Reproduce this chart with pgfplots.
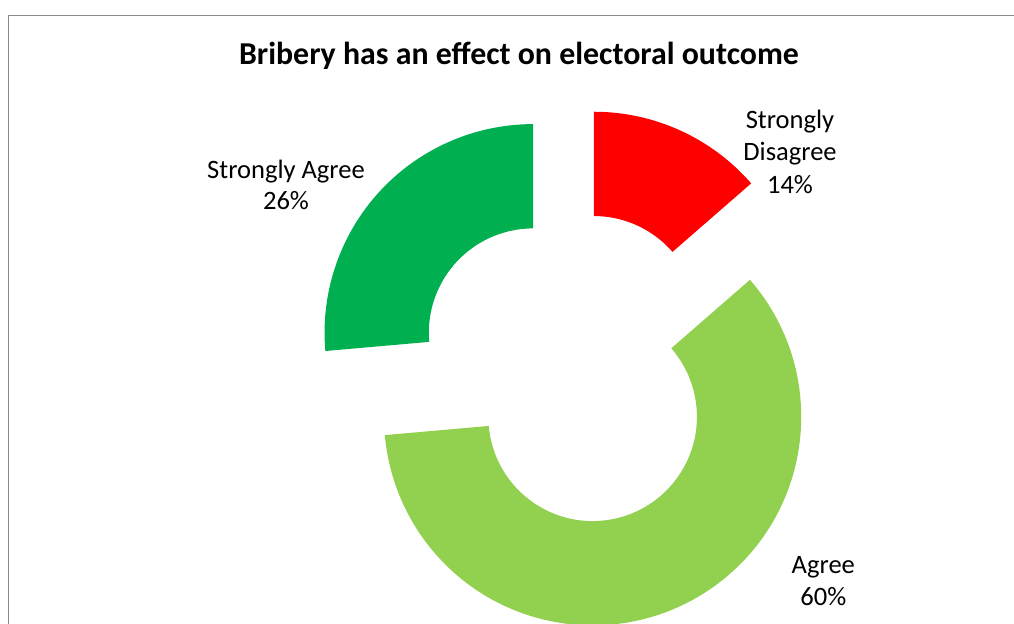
\documentclass[border=0pt]{standalone}
\usepackage{pgfplots}
\pgfplotsset{compat=1.18}
\usepackage{pgfplotstable}
\usepackage{fontspec}
\setmainfont{Carlito}

\definecolor{sdred}{HTML}{FF0000}
\definecolor{agreegreen}{HTML}{92D050}
\definecolor{sagreen}{HTML}{00B050}
\definecolor{framegray}{HTML}{898989}

\pgfplotstableread{
label value
StronglyDisagree 13.6
Agree 60.0
StronglyAgree 26.4
}\donutdata

\pgfplotstablegetelem{0}{value}\of\donutdata \let\vA\pgfplotsretval
\pgfplotstablegetelem{1}{value}\of\donutdata \let\vB\pgfplotsretval
\pgfplotstablegetelem{2}{value}\of\donutdata \let\vC\pgfplotsretval
\pgfmathsetmacro{\sA}{0}
\pgfmathsetmacro{\eA}{\sA+3.6*\vA}
\pgfmathsetmacro{\sB}{\eA}
\pgfmathsetmacro{\eB}{\sB+3.6*\vB}
\pgfmathsetmacro{\sC}{\eB}
\pgfmathsetmacro{\eC}{\sC+3.6*\vC}
\pgfmathsetmacro{\bA}{(\sA+\eA)/2}
\pgfmathsetmacro{\bB}{(\sB+\eB)/2}
\pgfmathsetmacro{\bC}{(\sC+\eC)/2}
\def\cx{572}
\def\cy{255.7}
\def\dd{52.7}
\def\Rpt{156.45pt}
\def\rpt{78.225pt}

\begin{document}%
\begin{tikzpicture}
\begin{axis}[width=760.5pt, height=468pt, scale only axis,
  xmin=0, xmax=1014, ymin=0, ymax=624, hide axis, clip=false]
% frame
\draw[framegray, line width=0.9pt] (axis cs:8.5,-5) -- (axis cs:8.5,608.5) -- (axis cs:1030,608.5);
% wedges
\coordinate (cA) at (axis cs:{\cx+\dd*sin(\bA)},{\cy+\dd*cos(\bA)});
\coordinate (cB) at (axis cs:{\cx+\dd*sin(\bB)},{\cy+\dd*cos(\bB)});
\coordinate (cC) at (axis cs:{\cx+\dd*sin(\bC)},{\cy+\dd*cos(\bC)});
\fill[sdred] ([shift={({90-\sA}:\Rpt)}]cA) arc[start angle={90-\sA}, end angle={90-\eA}, radius=\Rpt]
  -- ([shift={({90-\eA}:\rpt)}]cA) arc[start angle={90-\eA}, end angle={90-\sA}, radius=\rpt] -- cycle;
\fill[agreegreen] ([shift={({90-\sB}:\Rpt)}]cB) arc[start angle={90-\sB}, end angle={90-\eB}, radius=\Rpt]
  -- ([shift={({90-\eB}:\rpt)}]cB) arc[start angle={90-\eB}, end angle={90-\sB}, radius=\rpt] -- cycle;
\fill[sagreen] ([shift={({90-\sC}:\Rpt)}]cC) arc[start angle={90-\sC}, end angle={90-\eC}, radius=\Rpt]
  -- ([shift={({90-\eC}:\rpt)}]cC) arc[start angle={90-\eC}, end angle={90-\sC}, radius=\rpt] -- cycle;
% title
\node[anchor=base, inner sep=0pt, font=\fontsize{23.9}{28}\selectfont\bfseries] at (axis cs:519,559.5) {Bribery has an effect on electoral outcome};
% labels
\node[anchor=base, inner sep=0pt, font=\fontsize{19.9}{24}\selectfont] at (axis cs:286,445.8) {Strongly Agree};
\node[anchor=base, inner sep=0pt, font=\fontsize{19.9}{24}\selectfont] at (axis cs:286,414.2) {26\%};
\node[anchor=base, inner sep=0pt, font=\fontsize{19.9}{24}\selectfont] at (axis cs:790,495.8) {Strongly};
\node[anchor=base, inner sep=0pt, font=\fontsize{19.9}{24}\selectfont] at (axis cs:790,463.2) {Disagree};
\node[anchor=base, inner sep=0pt, font=\fontsize{19.9}{24}\selectfont] at (axis cs:790,430.8) {14\%};
\node[anchor=base, inner sep=0pt, font=\fontsize{19.9}{24}\selectfont] at (axis cs:823.3,50.8) {Agree};
\node[anchor=base, inner sep=0pt, font=\fontsize{19.9}{24}\selectfont] at (axis cs:823.3,18.5) {60\%};
\end{axis}
\pgfresetboundingbox
\useasboundingbox (current axis.south west) rectangle (current axis.north east);
\end{tikzpicture}%
\end{document}
